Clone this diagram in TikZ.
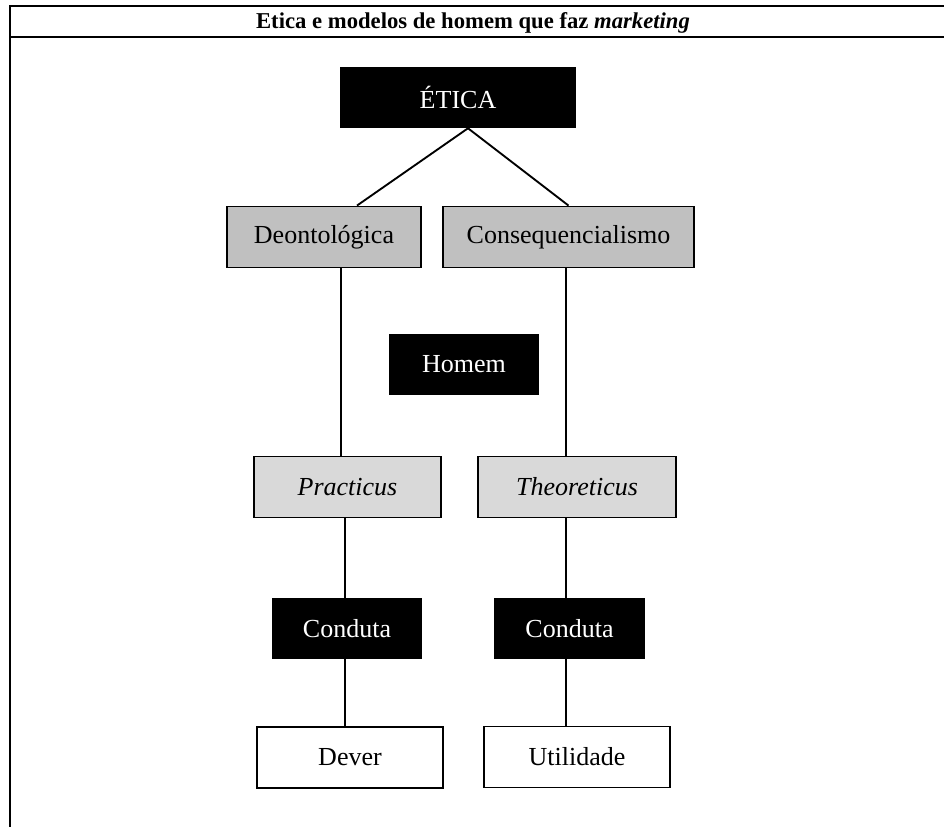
\documentclass[tikz,border=0pt]{standalone}
\usepackage{fontspec}
\setmainfont{Liberation Serif}
\usetikzlibrary{calc}
\definecolor{midgray}{HTML}{C0C0C0}
\definecolor{lightgray}{HTML}{D9D9D9}
\begin{document}
\begin{tikzpicture}[x=0.75pt,y=-0.75pt,
  box/.style={rectangle,inner sep=0pt,minimum height=45.75pt,
    font=\fontsize{19.5}{22}\selectfont},
  darkbox/.style={box,fill=black,text=white},
  greybox/.style={box,fill=midgray,draw=black,line width=1.4pt},
  paleBox/.style={box,fill=lightgray,draw=black,line width=1.4pt},
  plainbox/.style={box,fill=white,draw=black,line width=1.4pt},
  link/.style={draw=black,line width=1.4pt},
  rule/.style={draw=black,line width=2.1pt}]
\useasboundingbox (0,0) rectangle (944,827);

% table frame and heading
\coordinate (tl) at (10,6);
\coordinate (tr) at (944,6);
\coordinate (hl) at (10,37);
\coordinate (hr) at (944,37);
\coordinate (bl) at (10,827);
\draw[rule] (tr) -- (tl) -- (bl);
\draw[rule] (hl) -- (hr);
\node[font=\fontsize{17}{20}\selectfont\bfseries] (head) at (473,22.5)
  {Etica e modelos de homem que faz \textit{marketing}};

% nodes
\node[darkbox,minimum width=177pt] (etica) at (458,97.5) {ÉTICA};
\node[greybox,minimum width=145.5pt] (deon) at (324,237) {Deontológica};
\node[greybox,minimum width=188.25pt] (cons) at (568.5,237) {Consequencialismo};
\node[darkbox,minimum width=112.5pt] (homem) at (464,364.5) {Homem};
\node[paleBox,minimum width=140.25pt] (prac) at (347.5,487) {\textit{Practicus}};
\node[paleBox,minimum width=148.5pt] (theo) at (577,487) {\textit{Theoreticus}};
\node[darkbox,minimum width=112.5pt] (cond1) at (347,628.5) {Conduta};
\node[darkbox,minimum width=113.25pt] (cond2) at (569.5,628.5) {Conduta};
\node[plainbox,minimum width=139.5pt] (dever) at (350,757.5) {Dever};
\node[plainbox,minimum width=139.5pt] (util) at (577,757) {Utilidade};

% connector columns
\coordinate (apex) at ($(etica.south)+(10,0)$);
\coordinate (lx) at (341,0);
\coordinate (lx2) at (345,0);
\coordinate (rx) at (566,0);

\draw[link] (apex) -- ($(deon.north)+(33,0)$);
\draw[link] (apex) -- (cons.north);
\draw[link] (deon.south -| lx) -- (prac.north -| lx);
\draw[link] (cons.south -| rx) -- (theo.north -| rx);
\draw[link] (prac.south -| lx2) -- (cond1.north -| lx2);
\draw[link] (theo.south -| rx) -- (cond2.north -| rx);
\draw[link] (cond1.south -| lx2) -- (dever.north -| lx2);
\draw[link] (cond2.south -| rx) -- (util.north -| rx);
\end{tikzpicture}
\end{document}
